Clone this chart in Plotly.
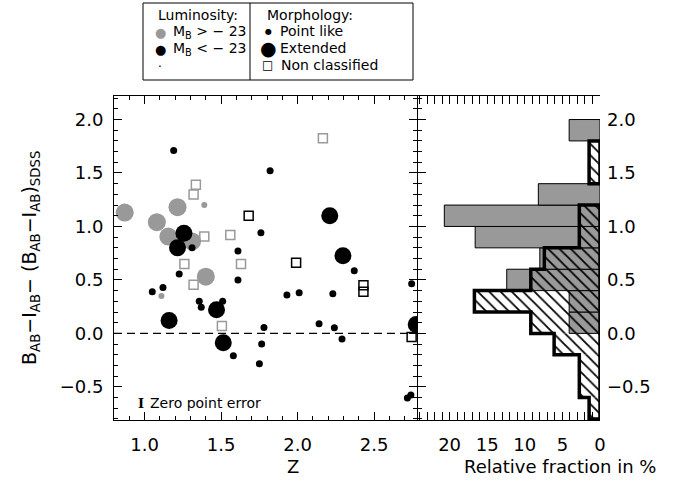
import plotly.graph_objects as go

# ---------------- data ----------------
# M_B > -23 (grey)
grey_ext_z = [0.87, 1.08, 1.155, 1.215, 1.31, 1.40]
grey_ext_c = [1.13, 1.04, 0.905, 1.18, 0.86, 0.53]
grey_pt_z = [1.39, 1.11]
grey_pt_c = [1.20, 0.35]
grey_nc_z = [1.335, 1.32, 1.39, 1.56, 1.26, 1.63, 1.32, 1.505, 2.165]
grey_nc_c = [1.39, 1.30, 0.905, 0.92, 0.65, 0.65, 0.455, 0.07, 1.826]

# M_B < -23 (black)
black_ext_z = [1.257, 1.215, 1.47, 1.16, 1.514, 2.21, 2.296, 2.775]
black_ext_c = [0.937, 0.80, 0.22, 0.12, -0.087, 1.10, 0.726, 0.084]
black_pt_z = [1.19, 1.82, 1.76, 1.31, 1.61, 1.226, 1.61, 1.12, 1.05, 1.357, 1.37,
              1.51, 1.78, 1.765, 1.58, 1.75, 2.37, 2.745, 1.93, 2.01, 2.23, 2.14,
              2.24, 2.29, 2.717, 2.74]
black_pt_c = [1.71, 1.52, 0.94, 0.80, 0.77, 0.555, 0.50, 0.43, 0.39, 0.30, 0.245,
              0.30, 0.056, -0.10, -0.21, -0.285, 0.585, 0.465, 0.36, 0.38, 0.37, 0.09,
              0.053, -0.053, -0.605, -0.577]
black_nc_z = [1.68, 1.99, 2.43, 2.43, 2.745]
black_nc_c = [1.10, 0.66, 0.45, 0.39, -0.034]

# histograms (relative fraction in %), bins of 0.2 in colour excess
bin_centers = [-0.7, -0.5, -0.3, -0.1, 0.1, 0.3, 0.5, 0.7, 0.9, 1.1, 1.3, 1.5, 1.7, 1.9]
bin_width = 0.2
grey_frac = [0, 0, 0, 0, 4.1, 4.1, 12.4, 8.0, 16.6, 20.7, 8.2, 0, 0, 4.1]
hatch_frac = [1.45, 2.75, 2.75, 6.1, 9.2, 16.7, 9.2, 7.4, 2.75, 2.75, 0, 1.45, 1.45, 0]

z_ticks = [1.0, 1.5, 2.0, 2.5]
frac_ticks = [20, 15, 10, 5, 0]

GREY = "#999999"
FONT = "DejaVu Sans"

fig = go.Figure()

# ---------------- scatter ----------------
def add_pts(z, c, color, symbol, size, lw=0):
    fig.add_trace(go.Scatter(
        x=z, y=c, mode="markers", xaxis="x", yaxis="y",
        marker=dict(color=color, symbol=symbol, size=size,
                    line=dict(color=color, width=lw)),
        hoverinfo="skip"))

add_pts(grey_ext_z, grey_ext_c, GREY, "circle", 18)
add_pts(grey_pt_z, grey_pt_c, GREY, "circle", 6)
add_pts(grey_nc_z, grey_nc_c, GREY, "square-open", 9, 1.5)
add_pts(black_ext_z, black_ext_c, "black", "circle", 17)
add_pts(black_pt_z, black_pt_c, "black", "circle", 7)
add_pts(black_nc_z, black_nc_c, "black", "square-open", 9, 1.5)

# ---------------- histograms ----------------
gc = [c for c, v in zip(bin_centers, grey_frac) if v > 0]
gv = [v for v in grey_frac if v > 0]
fig.add_trace(go.Bar(
    y=gc, x=gv, orientation="h", width=bin_width, xaxis="x2", yaxis="y2",
    marker=dict(color=GREY, line=dict(color="black", width=1)), hoverinfo="skip"))

hc = [c for c, v in zip(bin_centers, hatch_frac) if v > 0]
hv = [v for v in hatch_frac if v > 0]
fig.add_trace(go.Bar(
    y=hc, x=hv, orientation="h", width=bin_width, xaxis="x2", yaxis="y2",
    marker=dict(color="black",
                pattern=dict(shape="\\", size=8, solidity=0.22, fillmode="replace",
                             bgcolor="rgba(0,0,0,0)"),
                line=dict(width=0)),
    hoverinfo="skip"))

# thick step outline of hatched histogram, derived from the data
ox, oy = [], []
order = sorted(zip(bin_centers, hatch_frac), key=lambda t: -t[0])
run = []
def flush(run):
    if not run:
        return
    top = run[0][0] + bin_width / 2
    ox.append(0); oy.append(top)
    for c, v in run:
        ox.extend([v, v]); oy.extend([c + bin_width / 2, c - bin_width / 2])
    bot = run[-1][0] - bin_width / 2
    ox.extend([0, 0, None]); oy.extend([bot, top, None])
for c, v in order:
    if v > 0:
        run.append((c, v))
    else:
        flush(run); run = []
flush(run)
fig.add_trace(go.Scatter(x=ox, y=oy, mode="lines", xaxis="x2", yaxis="y2",
                         line=dict(color="black", width=3.5), hoverinfo="skip"))

# ---------------- layout ----------------
L, R, T, B = 114, 80, 96, 71
W, H = 680, 491
PW, PH = W - L - R, H - T - B

def px(xp):
    return (xp - L) / PW

def py(yp):
    return (H - B - yp) / PH

yr = [-0.81, 2.22]
tickfont = dict(family=FONT, size=18, color="black")

fig.update_layout(
    width=W, height=H, margin=dict(l=L, r=R, t=T, b=B),
    plot_bgcolor="white", paper_bgcolor="white", showlegend=False,
    barmode="overlay", font=dict(family=FONT, color="black"),
    xaxis=dict(domain=[0, px(417)], range=[0.8, 2.78], anchor="y",
               tickvals=z_ticks, ticktext=[f"{v:.1f}" for v in z_ticks],
               ticks="inside", ticklen=8, tickcolor="black", showline=True,
               linecolor="black", linewidth=1, mirror="allticks",
               minor=dict(dtick=0.1, tick0=0, ticks="inside", ticklen=4, tickcolor="black"),
               showgrid=False, zeroline=False, tickfont=tickfont, ticklabelstandoff=8),
    yaxis=dict(domain=[0, 1], range=yr, anchor="x", dtick=0.5, tick0=0, tickformat=".1f",
               ticks="inside", ticklen=8, tickcolor="black", showline=True,
               linecolor="black", linewidth=1, mirror="allticks",
               minor=dict(dtick=0.1, tick0=0, ticks="inside", ticklen=4, tickcolor="black"),
               showgrid=False, zeroline=False, tickfont=tickfont, ticklabelstandoff=6),
    xaxis2=dict(domain=[px(418), 1], range=[24.2, 0], anchor="y2",
                tickvals=frac_ticks, ticks="inside", ticklen=8, tickcolor="black",
                showline=True, linecolor="black", linewidth=1, mirror="allticks",
                minor=dict(dtick=1, tick0=0, ticks="inside", ticklen=4, tickcolor="black"),
                showgrid=False, zeroline=False, tickfont=tickfont, ticklabelstandoff=8),
    yaxis2=dict(domain=[0, 1], range=yr, anchor="x2", side="left", dtick=0.5, tick0=0,
                ticks="inside", ticklen=8, tickcolor="black", showticklabels=False,
                showline=False,
                minor=dict(dtick=0.1, tick0=0, ticks="inside", ticklen=4, tickcolor="black"),
                showgrid=False, zeroline=False),
    yaxis3=dict(range=yr, anchor="x2", overlaying="y2", side="right", dtick=0.5, tick0=0,
                tickformat=".1f", ticks="", showline=False, showgrid=False,
                zeroline=False, tickfont=tickfont, ticklabelstandoff=6),
)
# invisible trace so yaxis3 renders
fig.add_trace(go.Scatter(x=[None], y=[None], xaxis="x2", yaxis="y3", showlegend=False))

# dashed zero line
fig.add_shape(type="line", xref="x domain", yref="y", x0=0, x1=1, y0=0, y1=0,
              line=dict(color="black", width=1.2, dash="8px,5px"))

# legend box
fig.add_shape(type="rect", xref="paper", yref="paper", x0=px(143), x1=px(413),
              y0=py(80), y1=py(3), line=dict(color="black", width=1))
fig.add_shape(type="line", xref="paper", yref="paper", x0=px(250), x1=px(250),
              y0=py(80), y1=py(3), line=dict(color="black", width=1))

def ann(text, x, y, size=14, color="black", xanchor="left", family=FONT, angle=0):
    fig.add_annotation(text=text, x=px(x), y=py(y), xref="paper", yref="paper",
                       showarrow=False, xanchor=xanchor, yanchor="middle",
                       textangle=angle,
                       font=dict(family=family, size=size, color=color))

ann("Luminosity:", 156, 15)
ann("●", 160, 32, size=13, color=GREY, xanchor="center")
ann("M<sub>B</sub> > − 23", 171, 32)
ann("●", 160, 49, size=13, color="black", xanchor="center")
ann("M<sub>B</sub> < − 23", 171, 49)
ann(".", 160, 63, size=12, xanchor="center")
ann("Morphology:", 265, 15)
ann("●", 268, 31, size=8, xanchor="center")
ann("Point like", 278, 31)
ann("●", 268, 48, size=19, xanchor="center")
ann("Extended", 278, 48)
ann("□", 267, 65, size=12, xanchor="center")
ann("Non classified", 279, 65)

# zero point error bar glyph + label
ann("<b>I</b>", 141, 403, size=13, xanchor="center", family="DejaVu Serif")
ann("Zero point error", 148, 403, size=14)

# axis titles
ann("Z", 293, 466, size=18, xanchor="center")
ann("Relative fraction in %", 560, 466, size=18, xanchor="center")
ann("B<sub>AB</sub>−I<sub>AB</sub>− (B<sub>AB</sub>−I<sub>AB</sub>)<sub>SDSS</sub>",
    30, 258, size=19, xanchor="center", angle=-90)

fig.write_html("out.html", config={"displayModeBar": False},
               post_script="document.body.style.margin='0px';")
